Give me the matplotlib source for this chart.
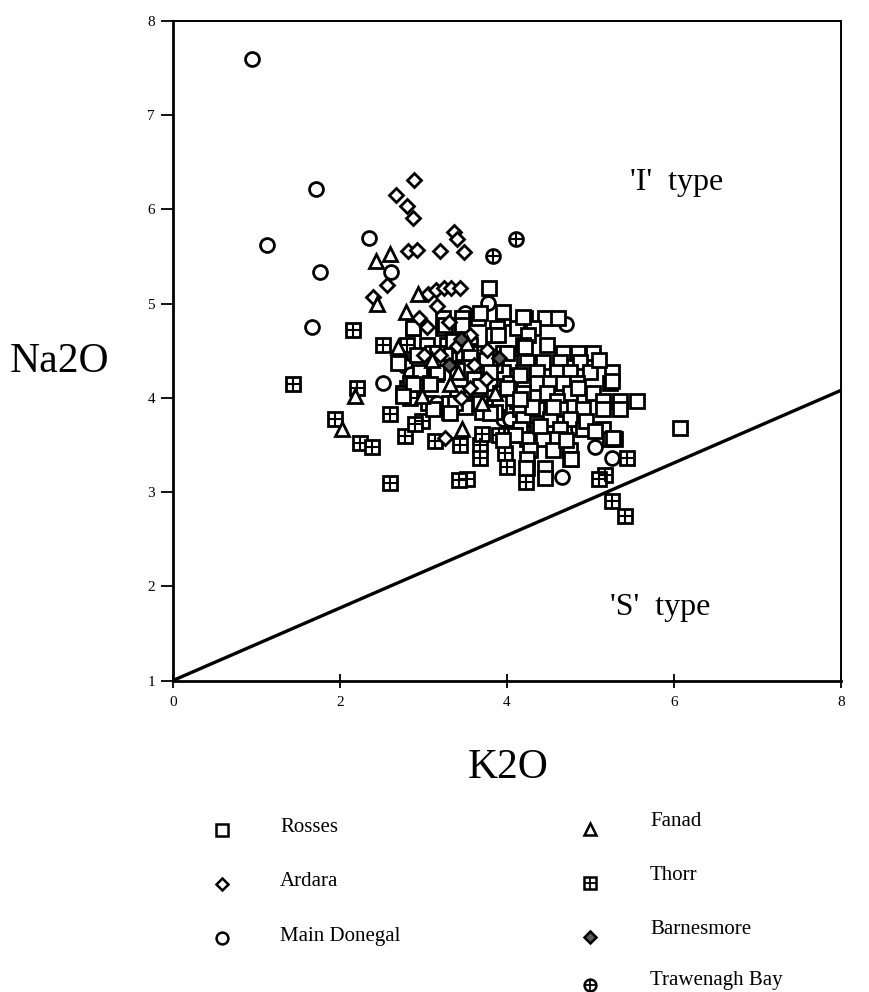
import numpy as np
import matplotlib.pyplot as plt

plt.rcParams['font.family'] = ['Liberation Serif', 'DejaVu Serif']

# K2O, Na2O per group
rosses_k = [3.78, 3.23, 3.46, 3.65, 3.95, 4.22, 4.46, 4.61,
            2.87, 3.23, 3.46, 3.88, 4.12, 4.31, 3.83, 4.25,
            3.04, 3.28, 3.56, 4.19, 4.48, 3.10, 3.26, 3.47, 3.71, 3.95, 4.67, 4.85, 5.03,
            4.04, 4.24, 4.43, 4.63, 4.87, 2.96, 3.16, 3.76, 3.95, 4.19, 4.36, 4.60, 4.75, 4.99, 5.26,
            2.84, 3.08, 3.80, 4.04, 4.36, 4.51, 4.67, 4.84, 5.23,
            3.92, 4.19, 4.48, 4.75, 5.03, 5.56, 5.15, 4.60, 4.12, 5.35,
            4.16, 4.36, 4.63, 4.91, 5.15, 5.35, 4.19, 4.51, 4.75,
            4.16, 4.36, 4.63, 4.91, 5.15, 4.24, 4.43, 4.60, 5.23,
            4.28, 4.55, 4.75, 4.75, 4.24, 4.24, 4.46, 4.23, 4.45, 4.77,
            6.07, 5.26, 5.27, 2.75, 3.35, 3.55, 3.40, 3.60, 3.85, 4.00,
            3.70, 3.90, 4.05, 3.30, 3.50, 3.15, 3.65, 3.85, 4.40, 4.70,
            4.95, 5.05, 4.30, 4.10, 3.95, 4.55, 4.85, 5.10, 3.40, 3.75,
            2.87, 3.26, 3.46, 3.68, 3.95, 4.19, 3.89, 4.22, 3.16, 3.56,
            4.00, 2.69, 2.92, 3.16, 3.80, 4.16, 2.87, 3.08, 3.68, 4.00,
            2.75, 3.38, 3.68, 4.16, 3.11, 3.32, 3.80]
rosses_na = [5.17, 4.85, 4.85, 4.85, 4.85, 4.85, 4.85, 4.85,
             4.74, 4.74, 4.74, 4.74, 4.74, 4.74, 4.67, 4.67,
             4.56, 4.56, 4.56, 4.56, 4.56, 4.47, 4.47, 4.47, 4.47, 4.47, 4.47, 4.47, 4.47,
             4.38, 4.38, 4.38, 4.38, 4.38, 4.27, 4.27, 4.27, 4.27, 4.27, 4.27, 4.27, 4.27, 4.27, 4.27,
             4.16, 4.16, 4.16, 4.16, 4.16, 4.16, 4.16, 4.16, 4.16,
             4.05, 4.05, 4.05, 4.05, 4.05, 3.97, 3.97, 3.97, 3.97, 3.97,
             3.88, 3.88, 3.88, 3.88, 3.88, 3.88, 3.77, 3.77, 3.77,
             3.67, 3.67, 3.67, 3.67, 3.67, 3.56, 3.56, 3.56, 3.56,
             3.45, 3.45, 3.45, 3.35, 3.35, 3.25, 3.25, 3.25, 3.15, 3.35,
             3.68, 4.18, 3.57, 4.05, 4.60, 4.50, 4.05, 4.20, 4.35, 4.00,
             3.85, 3.95, 3.60, 3.95, 3.90, 4.25, 4.05, 3.85, 3.70, 3.55,
             3.75, 3.65, 3.90, 3.60, 3.55, 3.90, 4.10, 4.40, 4.30, 4.40,
             4.74, 4.77, 4.77, 4.90, 4.91, 4.86, 4.67, 4.54, 4.47, 4.47,
             4.48, 4.37, 4.45, 4.27, 4.27, 4.24, 4.15, 4.15, 4.13, 4.10,
             4.02, 3.95, 3.95, 3.99, 3.88, 3.84, 3.84]

ardara_k = [2.89, 2.67, 2.80, 2.87, 2.82, 2.92, 3.20, 3.37, 3.40, 3.49,
            2.56, 2.40, 3.05, 3.15, 3.24, 3.33, 3.44, 3.04, 3.56, 3.76,
            3.56, 3.26, 3.16, 3.30, 3.40, 3.20, 3.60, 3.45, 3.75, 2.95, 3.00]
ardara_na = [6.31, 6.15, 6.03, 5.91, 5.56, 5.57, 5.56, 5.76, 5.68, 5.55,
             5.20, 5.07, 5.10, 5.14, 5.17, 5.17, 5.17, 4.75, 4.67, 4.51,
             4.10, 3.57, 4.97, 4.80, 4.55, 4.45, 4.35, 4.00, 4.20, 4.85, 4.45]

donegal_k = [0.95, 1.71, 1.13, 1.76, 2.35, 1.66, 2.61, 3.77, 2.51, 2.78,
             3.16, 3.56, 3.95, 4.04, 4.85, 5.05, 5.26, 4.66, 4.70, 2.85,
             3.40, 3.50]
donegal_na = [7.60, 6.22, 5.62, 5.33, 5.70, 4.75, 5.34, 5.01, 4.16, 4.34,
              3.95, 3.95, 3.77, 3.77, 3.67, 3.48, 3.36, 3.16, 4.78, 4.25,
              4.45, 4.90]

fanad_k = [2.43, 2.60, 2.44, 2.79, 2.93, 2.69, 2.98, 3.32, 3.41, 3.46,
           3.70, 2.02, 2.18, 3.52, 3.10, 3.85]
fanad_na = [5.45, 5.53, 4.99, 4.91, 5.10, 4.54, 4.02, 4.15, 4.27, 3.67,
            3.94, 3.67, 4.02, 4.58, 4.40, 4.05]

thorr_k = [1.44, 2.16, 2.51, 2.80, 2.72, 2.20, 1.94, 2.24, 2.38, 2.60,
           2.98, 2.78, 3.14, 3.44, 3.68, 3.68, 3.98, 4.00, 4.23, 2.60,
           3.52, 3.43, 5.17, 5.44, 5.26, 5.41, 2.80, 2.84, 5.29, 5.10,
           3.70, 3.90, 3.30, 3.05, 2.90]
thorr_na = [4.15, 4.72, 4.56, 4.56, 4.38, 4.10, 3.77, 3.52, 3.48, 3.83,
            3.75, 3.59, 3.54, 3.50, 3.50, 3.36, 3.41, 3.27, 3.11, 3.10,
            3.14, 3.13, 3.18, 3.36, 2.91, 2.75, 4.10, 4.00, 3.56, 3.14,
            3.62, 3.60, 3.85, 3.95, 3.72]

barnes_k = [3.45, 3.90, 3.30]
barnes_na = [4.62, 4.42, 4.35]

traw_k = [4.11, 3.83]
traw_na = [5.69, 5.50]

# I / S type boundary
line_k = [0, 8]
line_na = [1, 4.08]

fig = plt.figure(figsize=(8.69, 9.92), dpi=100)
ax = fig.add_axes([0.199, 0.314, 0.769, 0.665])

mew = 2.0
ms = 9.5
ax.plot(line_k, line_na, '-', color='black', lw=2.4, zorder=1)
ax.plot(thorr_k, thorr_na, 's', ms=ms, mfc='white', mec='black', mew=mew, ls='none', zorder=2)
ax.plot(thorr_k, thorr_na, '+', ms=ms, mec='black', mew=1.5, ls='none', zorder=2)
ax.plot(donegal_k, donegal_na, 'o', ms=10, mfc='white', mec='black', mew=mew, ls='none', zorder=3)
ax.plot(rosses_k, rosses_na, 's', ms=ms, mfc='white', mec='black', mew=mew, ls='none', zorder=3)
ax.plot(ardara_k, ardara_na, 'D', ms=6.8, mfc='white', mec='black', mew=mew, ls='none', zorder=4)
ax.plot(fanad_k, fanad_na, '^', ms=10.5, mfc='white', mec='black', mew=mew, ls='none', zorder=4)
ax.plot(barnes_k, barnes_na, 'D', ms=6.8, mfc='0.35', mec='black', mew=mew, ls='none', zorder=4)
ax.plot(traw_k, traw_na, 'o', ms=10, mfc='white', mec='black', mew=mew, ls='none', zorder=4)
ax.plot(traw_k, traw_na, '+', ms=10, mec='black', mew=1.5, ls='none', zorder=4)

ax.set_xlim(0, 8)
ax.set_ylim(1, 8)
ax.set_xticks([0, 2, 4, 6, 8])
ax.set_yticks([1, 2, 3, 4, 5, 6, 7, 8])
ax.tick_params(axis='y', direction='out', length=9, width=1.3, labelsize=11, pad=4)
ax.tick_params(axis='x', direction='inout', length=10, width=1.3, labelsize=11, pad=6)
for s in ax.spines.values():
    s.set_linewidth(1.4)
ax.spines['left'].set_linewidth(2)
ax.spines['bottom'].set_linewidth(2)

ax.text(6.03, 6.28, "'I'  type", fontsize=23, ha='center', va='center')
ax.text(5.83, 1.78, "'S'  type", fontsize=23, ha='center', va='center')
fig.text(60 / 869, 1 - 362 / 992, 'Na2O', fontsize=30, ha='center', va='center')
fig.text(508 / 869, 1 - 768 / 992, 'K2O', fontsize=30, ha='center', va='center')

# legend drawn in pixel space below the plot
lg = fig.add_axes([0, 0, 1, 1], facecolor='none')
lg.set_xlim(0, 869)
lg.set_ylim(992, 0)
lg.axis('off')
lkw = dict(ls='none', mfc='white', mec='black', mew=1.8, clip_on=False)
lg.plot(222, 830, 's', ms=8, **lkw)
lg.plot(222, 884, 'D', ms=6, **lkw)
lg.plot(222, 938, 'o', ms=8.5, **lkw)
lg.plot(590, 829, '^', ms=8.5, **lkw)
lg.plot(590, 883, 's', ms=8, **lkw)
lg.plot(590, 883, '+', ms=8, ls='none', mec='black', mew=1.3)
lg.plot(590, 937, 'D', ms=6, ls='none', mfc='0.35', mec='black', mew=1.8)
lg.plot(590, 985, 'o', ms=8.5, **lkw)
lg.plot(590, 985, '+', ms=8.5, ls='none', mec='black', mew=1.3, clip_on=False)
tkw = dict(fontsize=15, va='center', ha='left')
lg.text(280, 828, 'Rosses', **tkw)
lg.text(280, 882, 'Ardara', **tkw)
lg.text(280, 936, 'Main Donegal', **tkw)
lg.text(650, 822, 'Fanad', **tkw)
lg.text(650, 876, 'Thorr', **tkw)
lg.text(650, 929, 'Barnesmore', **tkw)
lg.text(650, 981, 'Trawenagh Bay', **tkw)

fig.savefig('out.png', dpi=100)
